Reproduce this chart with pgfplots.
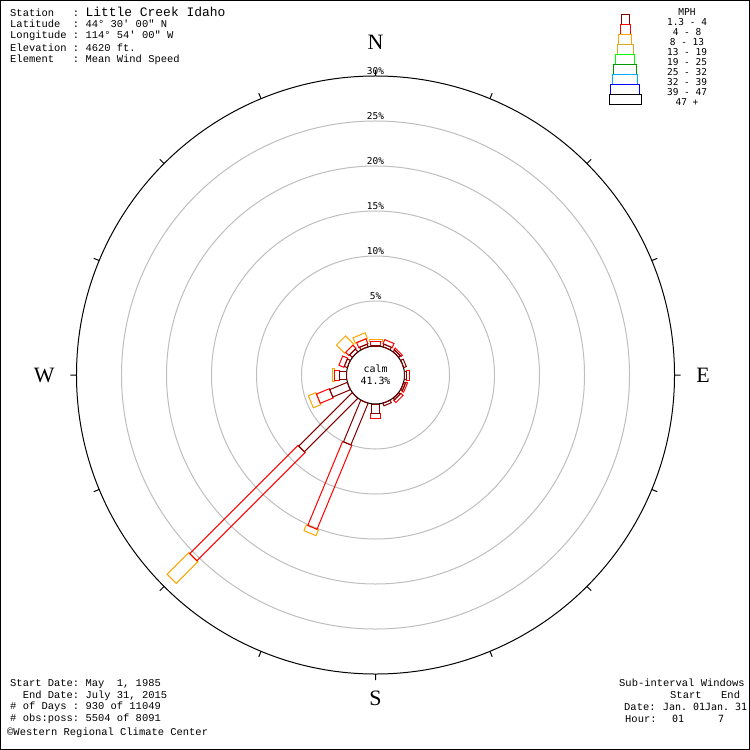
\documentclass[border=0pt]{standalone}
\usepackage{fontspec}
\setmainfont{Liberation Serif}
\newfontfamily\mono{Liberation Mono}
\newfontfamily\smono{DejaVu Sans Mono}
\usepackage{pgfplots}
\usepackage{pgfplotstable}
\pgfplotsset{compat=1.18}
\usepgfplotslibrary{polar}

\definecolor{spd1}{RGB}{128,0,0}
\definecolor{spd2}{RGB}{255,0,0}
\definecolor{spd3}{RGB}{255,165,0}
\definecolor{spd4}{RGB}{218,165,32}
\definecolor{spd5}{RGB}{0,255,0}
\definecolor{spd6}{RGB}{0,153,0}
\definecolor{spd7}{RGB}{0,170,255}
\definecolor{spd8}{RGB}{0,0,255}
\definecolor{ring}{RGB}{190,190,190}

% one speed class of one direction: outlined box pointing outwards
\pgfdeclareplotmark{windseg}{%
  \pgfpathrectangle{\pgfpoint{0bp}{-\seghw bp}}{\pgfpoint{\seglen bp}{\segw bp}}%
  \pgfusepathqstroke}

\pgfplotsset{
  seg/.style 2 args={
    color=#1, line width=1bp,
    scatter, only marks, mark=windseg,
    visualization depends on={90-\thisrow{dir} \as \segang},
    visualization depends on={(\thisrow{r2}-\thisrow{r1})*9 \as \seglen},
    visualization depends on={#2 \as \segw},
    visualization depends on={#2/2 \as \seghw},
    scatter/@pre marker code/.code={\pgfscope\pgftransformrotate{\segang}},
    scatter/@post marker code/.code={\endpgfscope},
  },
}

% percent beyond the calm circle, per speed class
\pgfplotstableread{
dir r1 r2
0 0 0.1
22.5 0 0.3
45 0 0.25
67.5 0 0.3
90 0 0.25
112.5 0 0.2
135 0 0.2
157.5 0 0.3
180 0 1.0
202.5 0 5.0
225 0 8.4
247.5 0 2.1
270 0 0.8
292.5 0 0.35
315 0 0.4
337.5 0 0.3
}\speedA
\pgfplotstableread{
dir r1 r2
0 0.1 0.5
22.5 0.3 0.8
45 0.25 0.45
90 0.25 0.55
112.5 0.2 0.4
135 0.2 0.55
180 1.0 1.6
202.5 5.0 15.1
225 8.4 25.4
247.5 2.1 3.65
270 0.8 1.3
292.5 0.35 0.95
315 0.4 0.9
337.5 0.3 0.9
}\speedB
\pgfplotstableread{
dir r1 r2
0 0.5 0.7
202.5 15.1 15.8
225 25.4 28.8
247.5 3.65 4.55
270 1.3 1.55
315 0.9 2.2
337.5 0.9 1.55
}\speedC

\def\calm{3.2222}

\begin{document}
\begin{tikzpicture}
\begin{polaraxis}[
    scale only axis, width=598bp, height=598bp,
    xmin=0, xmax=360, ymin=0, ymax=33.2222,
    xtick={0,22.5,...,337.5}, xticklabel=\empty,
    ytick={8.2222,13.2222,18.2222,23.2222,28.2222}, yticklabel=\empty,
    xmajorgrids=false, ymajorgrids=true,
    major grid style={ring, line width=1bp},
    axis line style={black, line width=1bp},
    y axis line style={draw=none},
    ytick style={draw=none},
    xtick style={black, line width=1bp},
    tick align=inside, major tick length=6bp,
    clip=false,
]
\addplot[seg={spd3}{13}] table[x expr={mod(450-\thisrow{dir},360)}, y expr=\thisrow{r1}+\calm] {\speedC};
\addplot[seg={spd2}{10}] table[x expr={mod(450-\thisrow{dir},360)}, y expr=\thisrow{r1}+\calm] {\speedB};
\addplot[seg={spd1}{8}] table[x expr={mod(450-\thisrow{dir},360)}, y expr=\thisrow{r1}+\calm] {\speedA};

\draw[black, line width=1bp, fill=white] (axis cs:0,0) circle[radius=29bp];
\node[font=\smono\fontsize{10}{12.5}\selectfont, align=center] at (axis cs:0,0) {calm\\41.3\%};

\foreach \p in {5,10,...,30} {
  \pgfmathsetmacro\rr{\p+\calm}
  \edef\tmp{\noexpand\node[font=\noexpand\smono\noexpand\fontsize{9.5}{10}\noexpand\selectfont, anchor=south, inner sep=1.5bp] at (axis cs:90,\rr) {\p\noexpand\%};}
  \tmp
}
\node[font=\fontsize{22}{22}\selectfont] at (axis cs:90,37) {N};
\node[font=\fontsize{22}{22}\selectfont] at (axis cs:0,36.4) {E};
\node[font=\fontsize{22}{22}\selectfont] at (axis cs:270,35.9) {S};
\node[font=\fontsize{22}{22}\selectfont] at (axis cs:180,36.8) {W};
\coordinate (c) at (axis cs:0,0);
\end{polaraxis}

\coordinate (tl) at ([shift={(-375.5bp,375bp)}]c);
\begin{scope}[shift={(tl)}, x=1bp, y=-1bp]
  % header and footer notes
  \begin{scope}[every node/.style={anchor=west, inner sep=0pt, font=\mono\fontsize{10.5}{12}\selectfont}]
    \node at (10,12) {Station~~~:~{\fontsize{13}{13}\selectfont Little Creek Idaho}};
    \node at (10,24) {Latitude~~:~44°~30\char"27~00\char"22~N};
    \node at (10,36) {Longitude~:~114°~54\char"27~00\char"22~W};
    \node at (10,48) {Elevation~:~4620~ft.};
    \node at (10,60) {Element~~~:~Mean~Wind~Speed};
    \node at (10,684) {Start~Date:~May~~1,~1985};
    \node at (10,695.5) {~~End~Date:~July~31,~2015};
    \node at (10,707) {\#~of~Days~:~930~of~11049};
    \node at (10,719) {\#~obs:poss:~5504~of~8091};
    \node at (7,733) {©Western~Regional~Climate~Center};
  \end{scope}
  \begin{scope}
    \clip (0,0) rectangle (749.5,750);
    \begin{scope}[every node/.style={anchor=west, inner sep=0pt, font=\mono\fontsize{10.5}{12}\selectfont}]
      \node at (619,683) {Sub-interval~Windows};
      \node at (670,695) {Start};
      \node at (721,695) {End};
      \node at (624,707) {Date:};
      \node at (663,707) {\smono\fontsize{10}{12}\selectfont Jan.~01Jan.~31};
      \node at (625,719) {Hour:};
      \node at (672,719) {\smono\fontsize{10}{12}\selectfont 01};
      \node at (718,719) {\smono\fontsize{10}{12}\selectfont 7};
    \end{scope}
  \end{scope}
  % legend
  \begin{scope}[line width=1bp]
    \draw[spd1] (621,15) rectangle (629,25);
    \draw[spd2] (620,25) rectangle (630,35);
    \draw[spd3] (618.3,35) rectangle (631.7,45);
    \draw[spd4] (617.3,45) rectangle (633.3,55);
    \draw[spd5] (615.3,55) rectangle (634.7,65);
    \draw[spd6] (613.3,65) rectangle (636.7,75);
    \draw[spd7] (612.3,75) rectangle (637.7,85);
    \draw[spd8] (610.3,85) rectangle (639.7,95);
    \draw[black] (609.3,95) rectangle (641.3,105);
  \end{scope}
  \begin{scope}[every node/.style={anchor=center, inner sep=0pt, font=\smono\fontsize{9.5}{10}\selectfont}]
    \node at (687,12) {MPH};
    \node at (687,22.5) {1.3 - 4};
    \node at (687,32.5) {4 - 8};
    \node at (687,42.5) {8 - 13};
    \node at (687,52.5) {13 - 19};
    \node at (687,62) {19 - 25};
    \node at (687,72) {25 - 32};
    \node at (687,82) {32 - 39};
    \node at (687,92) {39 - 47};
    \node at (687,102) {47 +};
  \end{scope}
  \draw[black, line width=1bp] (0.5,0.5) rectangle (749.5,749.5);
\end{scope}
\end{tikzpicture}
\end{document}
